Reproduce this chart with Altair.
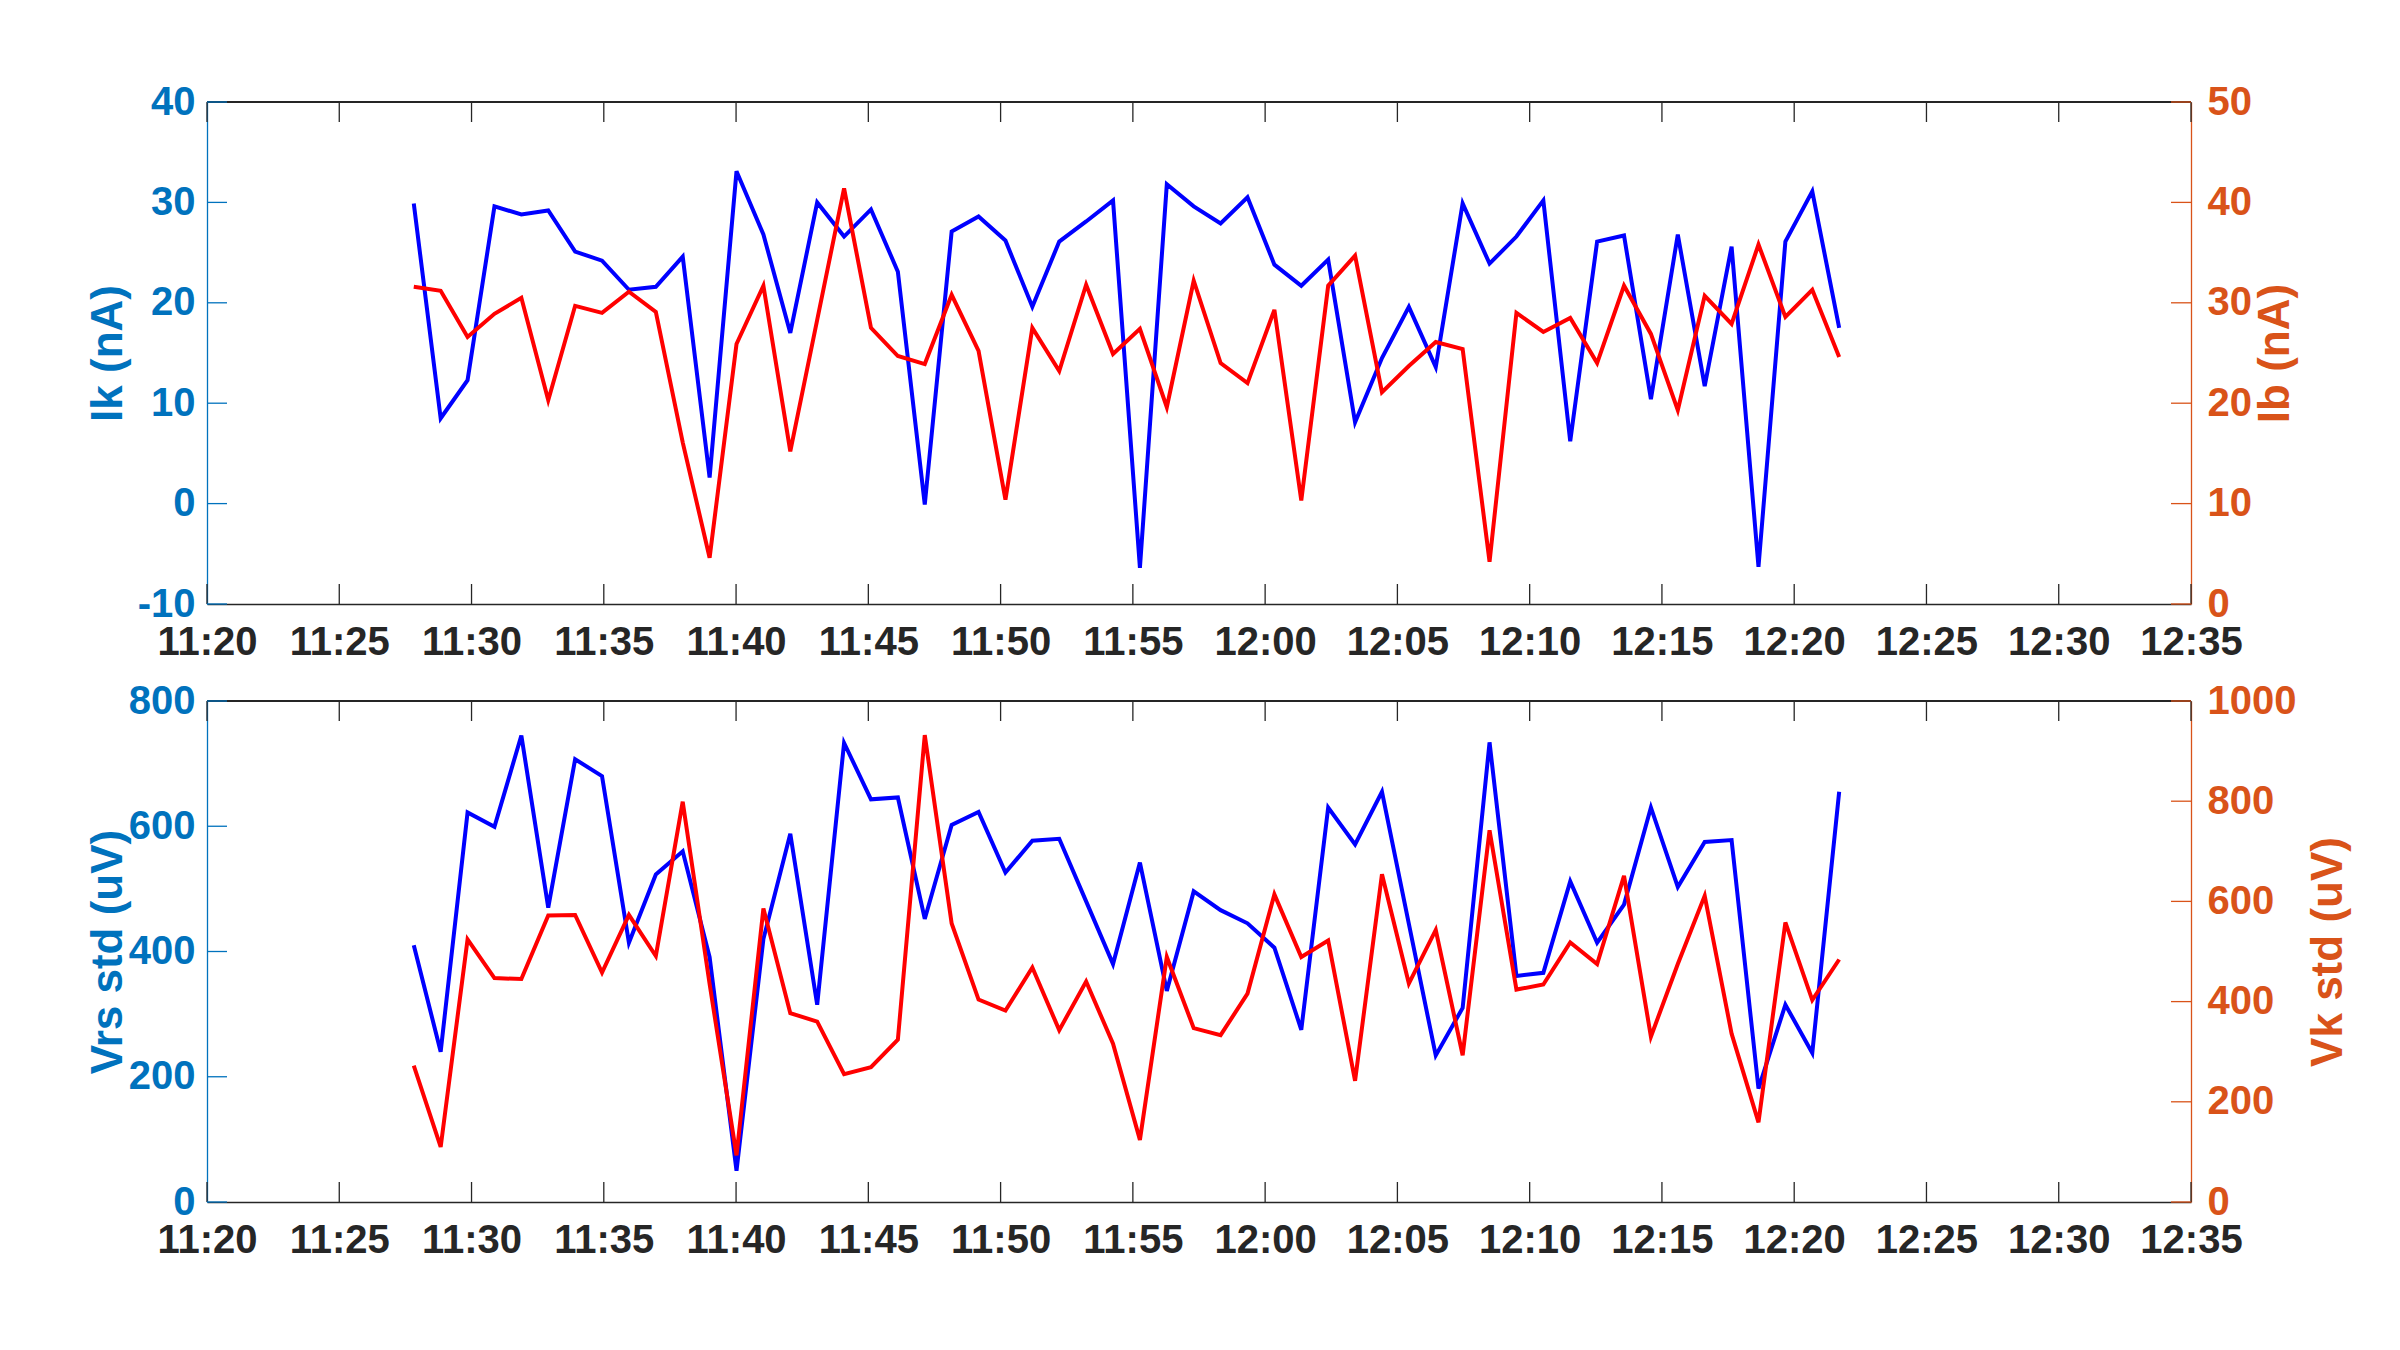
import altair as alt
import pandas as pd

# ---------------- data ----------------
day = "2024-01-01"
start_time = "11:27:49"
n_samples = 54
sample_period = "61s"

ik = [29.9, 8.5, 12.3, 29.6, 28.8, 29.2, 25.1, 24.2, 21.3, 21.6, 24.6, 2.6, 33.1, 26.8, 17.0, 30.0, 26.6, 29.3,
      23.1, -0.1, 27.1, 28.6, 26.2, 19.6, 26.1, 28.1, 30.2, -6.4, 31.8, 29.6, 27.9, 30.5, 23.8, 21.7, 24.3, 8.1,
      14.5, 19.6, 13.6, 29.9, 23.9, 26.6, 30.2, 6.2, 26.1, 26.7, 10.4, 26.8, 11.7, 25.6, -6.3, 26.1, 31.1, 17.5]

ib = [31.6, 31.2, 26.6, 28.9, 30.5, 20.3, 29.7, 29.0, 31.1, 29.1, 16.1, 4.6, 25.9, 31.7, 15.2, 28.3, 41.4, 27.5,
      24.7, 23.9, 30.8, 25.2, 10.4, 27.5, 23.2, 31.8, 24.9, 27.4, 19.6, 32.2, 24.0, 22.0, 29.3, 10.3, 31.7, 34.7,
      21.1, 23.7, 26.1, 25.4, 4.2, 29.0, 27.1, 28.5, 24.0, 31.7, 26.9, 19.3, 30.7, 27.9, 35.8, 28.6, 31.3, 24.6]

vrs = [410, 240, 622, 599, 745, 470, 707, 680, 414, 523, 560, 391, 50, 420, 588, 315, 733, 643,
       646, 452, 602, 623, 526, 577, 580, 480, 380, 542, 337, 496, 466, 445, 406, 275, 630, 571,
       655, 444, 234, 310, 734, 361, 366, 512, 414, 475, 630, 503, 575, 578, 181, 315, 238, 655]

vk = [272, 110, 524, 447, 445, 572, 573, 458, 573, 491, 799, 435, 93, 586, 377, 360, 255, 269,
      324, 932, 556, 404, 382, 468, 343, 440, 316, 124, 489, 347, 333, 416, 614, 489, 522, 242,
      654, 436, 543, 293, 742, 424, 434, 518, 475, 651, 330, 475, 611, 336, 159, 558, 403, 484]

x_tick_labels = ["11:20", "11:25", "11:30", "11:35", "11:40", "11:45", "11:50", "11:55",
                 "12:00", "12:05", "12:10", "12:15", "12:20", "12:25", "12:30", "12:35"]
ik_ticks = [-10, 0, 10, 20, 30, 40]
ib_ticks = [0, 10, 20, 30, 40, 50]
vrs_ticks = [0, 200, 400, 600, 800]
vk_ticks = [0, 200, 400, 600, 800, 1000]

# ---------------- styling ----------------
W = 1984
H_TOP = 502
H_BOT = 501
FONT = "Liberation Sans"
C_LEFT = "#0072BD"
C_RIGHT = "#D95319"
C_AX = "#262626"
TICK_LEN = 20
LBL = 40
TTL = 44

times = pd.date_range(f"{day} {start_time}", periods=n_samples, freq=sample_period)
tstr = [t.strftime("%Y-%m-%dT%H:%M:%S") for t in times]


def dt(label):
    hh, mm = label.split(":")
    return alt.DateTime(year=2024, month=1, date=1, hours=int(hh), minutes=int(mm))


x_values = [dt(s) for s in x_tick_labels]
x_scale = alt.Scale(domain=[x_values[0], x_values[-1]], nice=False)
x_tick_df = pd.DataFrame({"t": [f"{day}T{s}:00" for s in x_tick_labels]})

x_axis = alt.Axis(format="%H:%M", values=x_values, ticks=False, grid=False,
                  domainColor=C_AX, domainWidth=1.3, labelColor=C_AX,
                  labelFont=FONT, labelFontWeight="bold", labelFontSize=LBL,
                  labelPadding=18, labelAngle=0, labelOverlap=False, labelFlush=False,
                  title=None)


def panel(a_vals, b_vals, a_dom, b_dom, a_ticks, b_ticks, a_title, b_title, H, r_ext):
    df = pd.DataFrame({"t": tstr, "a": a_vals, "b": b_vals})
    base = alt.Chart(df)

    left_axis = alt.Axis(orient="left", values=a_ticks, ticks=False, grid=False,
                         labelExpr="'' + datum.value",
                         domainColor=C_LEFT, domainWidth=1.3, labelColor=C_LEFT,
                         labelFont=FONT, labelFontWeight="bold", labelFontSize=LBL,
                         labelPadding=12, minExtent=69, maxExtent=69,
                         title=a_title, titleColor=C_LEFT, titleFont=FONT,
                         titleFontWeight="bold", titleFontSize=TTL, titlePadding=8)

    right_axis = alt.Axis(orient="right", values=b_ticks, ticks=False, grid=False,
                          labelExpr="'' + datum.value",
                          domainColor=C_RIGHT, domainWidth=1.3, labelColor=C_RIGHT,
                          labelFont=FONT, labelFontWeight="bold", labelFontSize=LBL,
                          labelPadding=16, minExtent=r_ext, maxExtent=r_ext,
                          title=b_title, titleColor=C_RIGHT, titleFont=FONT,
                          titleFontWeight="bold", titleFontSize=TTL, titlePadding=10,
                          titleAngle=270, titleBaseline="top")

    a_scale = alt.Scale(domain=a_dom, nice=False, zero=False)
    b_scale = alt.Scale(domain=b_dom, nice=False, zero=False)

    border = alt.Chart(x_tick_df).mark_rule(color=C_AX, strokeWidth=1.3).encode(
        x=alt.value(0), x2=alt.value(W), y=alt.value(0))

    xt_top = alt.Chart(x_tick_df).mark_rule(color=C_AX, strokeWidth=1.3).encode(
        x=alt.X("t:T", scale=x_scale, axis=x_axis), y=alt.value(0), y2=alt.value(TICK_LEN))
    xt_bot = alt.Chart(x_tick_df).mark_rule(color=C_AX, strokeWidth=1.3).encode(
        x=alt.X("t:T", scale=x_scale, axis=x_axis), y=alt.value(H - TICK_LEN), y2=alt.value(H))

    yl = alt.Chart(pd.DataFrame({"v": a_ticks})).mark_rule(color=C_LEFT, strokeWidth=1.3).encode(
        y=alt.Y("v:Q", scale=a_scale, axis=None), x=alt.value(0), x2=alt.value(TICK_LEN))
    yr = alt.Chart(pd.DataFrame({"v": b_ticks})).mark_rule(color=C_RIGHT, strokeWidth=1.3).encode(
        y=alt.Y("v:Q", scale=b_scale, axis=None), x=alt.value(W - TICK_LEN), x2=alt.value(W))

    blue = base.mark_line(color="#0000FF", strokeWidth=4).encode(
        x=alt.X("t:T", scale=x_scale, axis=x_axis),
        y=alt.Y("a:Q", scale=a_scale, axis=left_axis))
    red = base.mark_line(color="#FF0000", strokeWidth=4).encode(
        x=alt.X("t:T", scale=x_scale, axis=x_axis),
        y=alt.Y("b:Q", scale=b_scale, axis=right_axis))

    return alt.layer(border, xt_top, xt_bot, yl, yr, blue, red).resolve_scale(
        y="independent").properties(width=W, height=H)


top = panel(ik, ib, [-10, 40], [0, 50], ik_ticks, ib_ticks, "Ik (nA)", "Ib (nA)", H_TOP, 52)
bot = panel(vrs, vk, [0, 800], [0, 1000], vrs_ticks, vk_ticks, "Vrs std (uV)", "Vk std (uV)", H_BOT, 105)

chart = alt.vconcat(top, bot, spacing=19).properties(
    padding={"left": 78, "top": 74, "right": 10, "bottom": 10},
    background="white",
).configure_view(strokeWidth=0)

chart.save("out.html", embed_options={"renderer": "svg", "actions": False})
